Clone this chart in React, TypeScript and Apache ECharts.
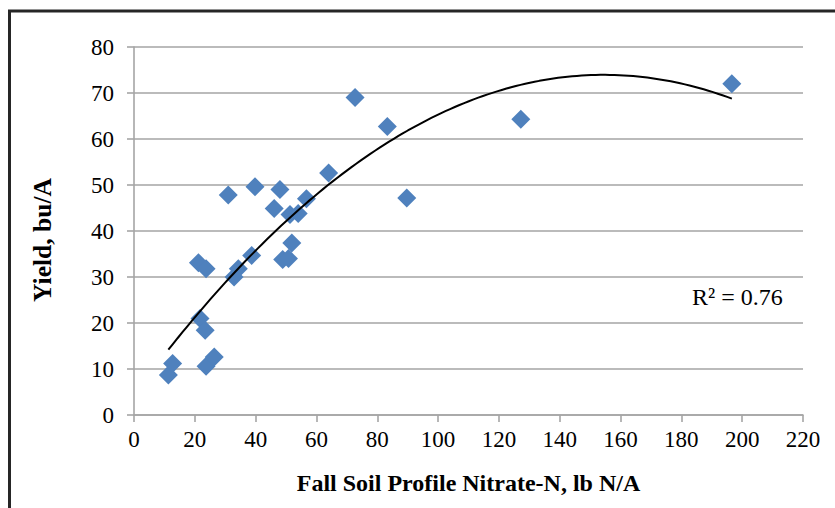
import React, { useEffect, useRef } from "react";
import * as echarts from "echarts";

const nitrateN: number[] = [11.3, 12.7, 21.2, 23.7, 21.7, 23.4, 23.7, 26.4, 31.0, 39.8, 32.9, 34.3, 38.7, 46.1, 48.0, 48.9, 50.8, 51.9, 51.3, 54.0, 56.7, 64.0, 72.7, 83.3, 89.7, 127.2, 196.6];
const yieldBu: number[] = [8.7, 11.2, 33.1, 31.8, 21.0, 18.4, 10.6, 12.6, 47.8, 49.6, 30.0, 31.8, 34.7, 44.9, 49.0, 33.8, 34.0, 37.4, 43.6, 43.8, 47.0, 52.6, 69.0, 62.7, 47.2, 64.3, 72.0];
const xTicks: number[] = [0, 20, 40, 60, 80, 100, 120, 140, 160, 180, 200, 220];
const yTicks: number[] = [0, 10, 20, 30, 40, 50, 60, 70, 80];
const r2Label = "R² = 0.76";
const yTitle = "Yield, bu/A";
const xTitle = "Fall Soil Profile Nitrate-N, lb N/A";

function quadFit(xs: number[], ys: number[]): [number, number, number] {
  // least squares y = c0 + c1 x + c2 x^2
  let s0 = 0, s1 = 0, s2 = 0, s3 = 0, s4 = 0, t0 = 0, t1 = 0, t2 = 0;
  for (let i = 0; i < xs.length; i++) {
    const x = xs[i], y = ys[i];
    s0 += 1; s1 += x; s2 += x * x; s3 += x * x * x; s4 += x * x * x * x;
    t0 += y; t1 += x * y; t2 += x * x * y;
  }
  const M = [
    [s0, s1, s2, t0],
    [s1, s2, s3, t1],
    [s2, s3, s4, t2],
  ];
  for (let c = 0; c < 3; c++) {
    let p = c;
    for (let r = c + 1; r < 3; r++) if (Math.abs(M[r][c]) > Math.abs(M[p][c])) p = r;
    [M[c], M[p]] = [M[p], M[c]];
    for (let r = 0; r < 3; r++) {
      if (r === c) continue;
      const f = M[r][c] / M[c][c];
      for (let k = c; k < 4; k++) M[r][k] -= f * M[c][k];
    }
  }
  return [M[0][3] / M[0][0], M[1][3] / M[1][1], M[2][3] / M[2][2]];
}

export default function App() {
  const ref = useRef<HTMLDivElement>(null);
  useEffect(() => {
    if (!ref.current) return;
    const chart = echarts.init(ref.current, undefined, { renderer: "svg" });
    const [c0, c1, c2] = quadFit(nitrateN, yieldBu);
    const xMin = Math.min(...nitrateN);
    const xMax = Math.max(...nitrateN);
    const trend: number[][] = [];
    const n = 120;
    for (let i = 0; i <= n; i++) {
      const x = xMin + ((xMax - xMin) * i) / n;
      trend.push([x, c0 + c1 * x + c2 * x * x]);
    }
    const font = "'Liberation Serif', 'Times New Roman', serif";
    const grey = "#a5a5a5";
    chart.setOption({
      animation: false,
      backgroundColor: "#ffffff",
      textStyle: { fontFamily: font },
      grid: { left: 134, right: 32, top: 47, bottom: 93 },
      xAxis: {
        type: "value",
        min: xTicks[0],
        max: xTicks[xTicks.length - 1],
        interval: 20,
        name: xTitle,
        nameLocation: "middle",
        nameGap: 56,
        nameTextStyle: { fontFamily: font, fontSize: 24, fontWeight: "bold", color: "#000" },
        axisLine: { show: true, lineStyle: { color: grey, width: 1.6 } },
        axisTick: { show: true, inside: false, length: 7, lineStyle: { color: grey, width: 1.6 } },
        axisLabel: { fontFamily: font, fontSize: 23, color: "#000", margin: 13 },
        splitLine: { show: false },
      },
      yAxis: {
        type: "value",
        min: yTicks[0],
        max: yTicks[yTicks.length - 1],
        interval: 10,
        axisLine: { show: true, lineStyle: { color: grey, width: 1.6 } },
        axisTick: { show: true, inside: false, length: 7, lineStyle: { color: grey, width: 1.6 } },
        axisLabel: { fontFamily: font, fontSize: 23, color: "#000", margin: 20 },
        splitLine: { show: true, lineStyle: { color: grey, width: 1.6 } },
      },
      series: [
        {
          type: "scatter",
          symbol: "diamond",
          symbolSize: [19, 19],
          itemStyle: { color: "#4F81BD", opacity: 1 },
          data: nitrateN.map((x, i) => [x, yieldBu[i]]),
          z: 2,
        },
        {
          type: "line",
          data: trend,
          showSymbol: false,
          smooth: false,
          lineStyle: { color: "#000", width: 2 },
          z: 3,
        },
      ],
      graphic: [
        {
          type: "rect",
          shape: { x: 9.5, y: 11, width: 900, height: 600 },
          style: { fill: "none", stroke: "#262626", lineWidth: 3 },
          silent: true,
        },
        {
          type: "text",
          x: 42,
          y: 240,
          rotation: Math.PI / 2,
          style: {
            text: yTitle,
            fontFamily: font,
            fontSize: 25.5,
            fontWeight: "bold",
            fill: "#000",
            align: "center",
            verticalAlign: "middle",
          },
        },
        {
          type: "text",
          left: 692,
          top: 285,
          style: { text: r2Label, fontFamily: font, fontSize: 24, fill: "#000" },
        },
      ],
    });
    return () => chart.dispose();
  }, []);
  return (
    <div
      ref={ref}
      style={{ position: "absolute", left: 0, top: 0, width: 835, height: 508 }}
    />
  );
}
